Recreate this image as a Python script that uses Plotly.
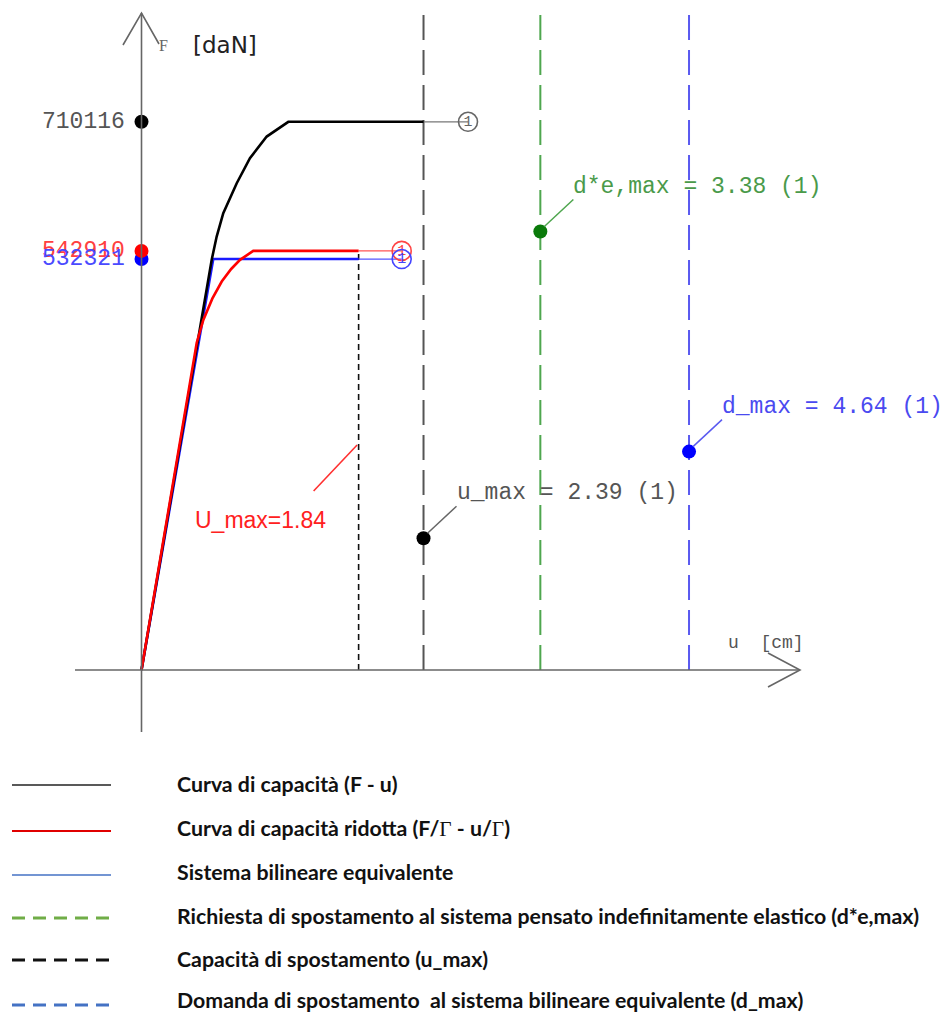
import plotly.graph_objects as go

# ---------------- data ----------------
# capacity curve F - u  (black)
cap_u = [0, 0.49, 0.553, 0.595, 0.637, 0.693, 0.807, 0.919, 1.061, 1.244, 2.39]
cap_F = [0, 441000, 496500, 531500, 561500, 591800, 630600, 663000, 691000, 710116, 710116]

# reduced capacity curve F/Gamma - u/Gamma  (red)
red_u = [0, 0.468, 0.524, 0.60, 0.680, 0.76, 0.835, 0.947, 1.84]
red_F = [0, 424000, 453500, 481000, 503200, 519500, 531300, 542910, 542910]

# equivalent bilinear system (blue)
bil_u = [0, 0.608, 1.84]
bil_F = [0, 532321, 532321]

# plateau extensions ending in the "1" circles
ext_cap_u = [2.39, 2.767]
ext_red_u = [1.84, 2.205]

F_labels = ["710116", "542910", "532321"]
F_values = [710116, 542910, 532321]

U_MAX = 2.39       # capacità di spostamento
DE_MAX = 3.38      # richiesta elastico
D_MAX = 4.64       # domanda bilineare
U_MAX_RED = 1.84   # U_max ridotto

# height of the markers on the vertical lines
F_dot_umax = 170700
F_dot_demax = 567950
F_dot_dmax = 282900

legend_labels = [
    "Curva di capacità (F - u)",
    "Curva di capacità ridotta (F/<span style=\"font-family:'Liberation Serif'; font-weight:normal\">Γ</span> - u/<span style=\"font-family:'Liberation Serif'; font-weight:normal\">Γ</span>)",
    "Sistema bilineare equivalente",
    "Richiesta di spostamento al sistema pensato indefinitamente elastico (d*e,max)",
    "Capacità di spostamento (u_max)",
    "Domanda di spostamento  al sistema bilineare equivalente (d_max)",
]

# ---------------- geometry of the page ----------------
PAGE_W, PAGE_H = 950, 1013
OFF = 8                          # default body margin of the html page
W, H = PAGE_W - OFF, PAGE_H - OFF
OX, OY = 141.5 - OFF, 670.0 - OFF   # pixel position of the origin inside the figure
PX_PER_CM = 118.0
DAN_PER_PX = 1295.4

x_range = [-OX / PX_PER_CM, (W - OX) / PX_PER_CM]
y_range = [-(H - OY) * DAN_PER_PX, OY * DAN_PER_PX]
Y_TOP = (OY - 2) * DAN_PER_PX   # top of the vertical dashed lines


def px(x):
    """page pixel x -> paper coordinate"""
    return (x - OFF) / W


def py(y):
    """page pixel y -> paper coordinate"""
    return 1 - (y - OFF) / H


MONO = "Liberation Mono, Courier New, monospace"

fig = go.Figure()

# vertical reference lines
fig.add_trace(go.Scatter(x=[U_MAX, U_MAX], y=[0, Y_TOP], mode="lines",
                         line=dict(color="#555555", width=2, dash="25px,10px"), showlegend=False))
fig.add_trace(go.Scatter(x=[DE_MAX, DE_MAX], y=[0, Y_TOP], mode="lines",
                         line=dict(color="#4ea64e", width=2, dash="25px,10px"), showlegend=False))
fig.add_trace(go.Scatter(x=[D_MAX, D_MAX], y=[0, Y_TOP], mode="lines",
                         line=dict(color="#5a5af0", width=2, dash="25px,10px"), showlegend=False))
fig.add_trace(go.Scatter(x=[U_MAX_RED, U_MAX_RED], y=[0, F_values[1]], mode="lines",
                         line=dict(color="#111111", width=1.6, dash="6px,4px"), showlegend=False))

# thin plateau extensions
fig.add_trace(go.Scatter(x=ext_cap_u, y=[cap_F[-1]] * 2, mode="lines",
                         line=dict(color="#777777", width=1.3), showlegend=False))
fig.add_trace(go.Scatter(x=ext_red_u, y=[red_F[-1]] * 2, mode="lines",
                         line=dict(color="#ff5555", width=1.3), showlegend=False))
fig.add_trace(go.Scatter(x=ext_red_u, y=[bil_F[-1]] * 2, mode="lines",
                         line=dict(color="#5555ff", width=1.3), showlegend=False))

# curves
fig.add_trace(go.Scatter(x=bil_u, y=bil_F, mode="lines",
                         line=dict(color="#1a1aff", width=2.6), showlegend=False))
fig.add_trace(go.Scatter(x=cap_u, y=cap_F, mode="lines",
                         line=dict(color="#000000", width=2.6), showlegend=False))
fig.add_trace(go.Scatter(x=red_u, y=red_F, mode="lines",
                         line=dict(color="#ff0000", width=2.6), showlegend=False))

# end circles with "1"
for xe, ye, col in [(ext_cap_u[-1], cap_F[-1], "#666666"),
                    (ext_red_u[-1], red_F[-1], "#ff4444"),
                    (ext_red_u[-1], bil_F[-1], "#4444ff")]:
    fig.add_trace(go.Scatter(x=[xe], y=[ye], mode="markers+text", text=["1"],
                             textposition="middle center",
                             textfont=dict(family=MONO, size=15, color=col),
                             marker=dict(symbol="circle-open", size=19, color=col,
                                         line=dict(color=col, width=1.6)),
                             showlegend=False))

# dots on the F axis
fig.add_trace(go.Scatter(x=[0, 0, 0], y=[F_values[0], F_values[2], F_values[1]], mode="markers",
                         marker=dict(size=14, color=["#000000", "#0000ff", "#ff0000"]),
                         showlegend=False))

# dots on the vertical lines
fig.add_trace(go.Scatter(x=[U_MAX, DE_MAX, D_MAX], y=[F_dot_umax, F_dot_demax, F_dot_dmax],
                         mode="markers", marker=dict(size=14, color=["#000000", "#0a7a0a", "#0000ff"]),
                         showlegend=False))

shapes = []
annotations = []

# axes drawn as lines with open arrows
AX = "#666666"
shapes.append(dict(type="line", xref="paper", yref="y", x0=px(75), x1=px(800), y0=0, y1=0,
                   line=dict(color=AX, width=1.6)))
shapes.append(dict(type="line", xref="x", yref="paper", x0=0, x1=0, y0=py(732), y1=py(13),
                   line=dict(color=AX, width=1.6)))
shapes.append(dict(type="path", xref="paper", yref="paper",
                   path=f"M {px(768)},{py(653)} L {px(800)},{py(670)} L {px(768)},{py(687)}",
                   line=dict(color=AX, width=1.6)))
shapes.append(dict(type="path", xref="paper", yref="paper",
                   path=f"M {px(123)},{py(45)} L {px(141.5)},{py(13)} L {px(159)},{py(44)}",
                   line=dict(color=AX, width=1.6)))

# axis titles
annotations.append(dict(xref="paper", yref="paper", x=px(157), y=py(46), text="F", showarrow=False,
                        xanchor="left", yanchor="middle",
                        font=dict(family="Liberation Serif, serif", size=16, color="#666")))
annotations.append(dict(xref="paper", yref="paper", x=px(191), y=py(45), text="[daN]", showarrow=False,
                        xanchor="left", yanchor="middle",
                        font=dict(family="DejaVu Sans, sans-serif", size=23, color="#222")))
annotations.append(dict(xref="paper", yref="paper", x=px(726), y=py(643), text="u  [cm]", showarrow=False,
                        xanchor="left", yanchor="middle",
                        font=dict(family=MONO, size=18, color="#555")))

# F-axis value labels
label_colors = ["#555555", "#ff4040", "#4a4aff"]
for lab, val, col in zip(F_labels, F_values, label_colors):
    annotations.append(dict(xref="x", yref="y", x=0, y=val, text=lab, showarrow=False,
                            xanchor="right", yanchor="middle", xshift=-15,
                            font=dict(family=MONO, size=23, color=col)))

# leader lines + labels of the displacement markers
markers = [
    (U_MAX, F_dot_umax, "u_max = 2.39 (1)", "#666666", "#555555"),
    (DE_MAX, F_dot_demax, "d*e,max = 3.38 (1)", "#4ea64e", "#4a9a4a"),
    (D_MAX, F_dot_dmax, "d_max = 4.64 (1)", "#5a5af0", "#4a4af0"),
]
for xv, yv, txt, lcol, tcol in markers:
    shapes.append(dict(type="line", xref="x", yref="y", xsizemode="pixel", ysizemode="pixel",
                       xanchor=xv, yanchor=yv, x0=4, y0=5, x1=33, y1=32,
                       line=dict(color=lcol, width=1.5)))
    annotations.append(dict(xref="x", yref="y", x=xv, y=yv, text=txt, showarrow=False,
                            xanchor="left", yanchor="middle", xshift=31, yshift=45,
                            font=dict(family=MONO, size=23, color=tcol)))

# U_max red note
shapes.append(dict(type="line", xref="x", yref="y", xsizemode="pixel", ysizemode="pixel",
                   xanchor=U_MAX_RED, yanchor=0, x0=-45, y0=179, x1=-1.5, y1=225,
                   line=dict(color="#ff3030", width=1.6)))
annotations.append(dict(xref="x", yref="y", x=U_MAX_RED, y=0, text="U_max=1.84", showarrow=False,
                        xanchor="left", yanchor="middle", xshift=-166, yshift=150,
                        font=dict(family="Liberation Sans, Arial, sans-serif", size=23, color="#ff2020")))

# manual legend
leg_line_y = [785, 831, 875, 918, 960, 1005]
leg_text_y = [784, 828, 872, 916, 959, 1000]
leg_styles = [
    dict(color="#222222", width=1.6, dash="solid"),
    dict(color="#e00000", width=2, dash="solid"),
    dict(color="#4472c4", width=1.6, dash="solid"),
    dict(color="#70ad47", width=3, dash="13px,8px"),
    dict(color="#111111", width=3, dash="13px,8px"),
    dict(color="#4472c4", width=3, dash="13px,8px"),
]
for ly, ty, st, lab in zip(leg_line_y, leg_text_y, leg_styles, legend_labels):
    shapes.append(dict(type="line", xref="paper", yref="paper", x0=px(12), x1=px(111),
                       y0=py(ly), y1=py(ly), line=st))
    annotations.append(dict(xref="paper", yref="paper", x=px(175), y=py(ty), text=f"<b>{lab}</b>",
                            showarrow=False, xanchor="left", yanchor="middle",
                            font=dict(family="Lato, sans-serif", size=21.3, color="#111")))

fig.update_layout(
    width=W, height=H,
    margin=dict(l=0, r=0, t=0, b=0),
    paper_bgcolor="white", plot_bgcolor="white",
    xaxis=dict(range=x_range, visible=False, fixedrange=True),
    yaxis=dict(range=y_range, visible=False, fixedrange=True),
    shapes=shapes, annotations=annotations,
    showlegend=False,
)

fig.write_html("out.html")
